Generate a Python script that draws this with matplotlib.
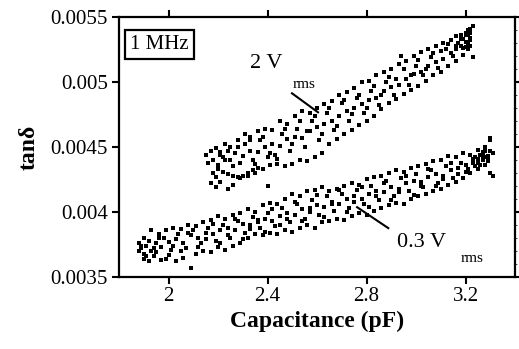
import matplotlib
matplotlib.use("Agg")
import matplotlib.pyplot as plt
import numpy as np
from matplotlib.ticker import FixedLocator, FuncFormatter, MultipleLocator

# ---- data (tan delta in units of 1e-3) ----
cap_2v = [
    # upper strand
    2.15, 2.17, 2.19, 2.21, 2.23, 2.25, 2.28, 2.31, 2.33, 2.36, 2.39, 2.42, 2.45, 2.48, 2.51, 2.54, 2.57, 2.60, 2.63, 2.66,
    2.69, 2.72, 2.75, 2.78, 2.81, 2.84, 2.87, 2.90, 2.93, 2.96, 2.99, 3.02, 3.05, 3.08, 3.11, 3.14, 3.16, 3.18, 3.20, 3.22,
    # middle strand
    2.16, 2.18, 2.20, 2.22, 2.25, 2.27, 2.30, 2.33, 2.36, 2.39, 2.42, 2.45, 2.48, 2.51, 2.54, 2.57, 2.60, 2.63, 2.66, 2.69,
    2.72, 2.75, 2.78, 2.81, 2.84, 2.87, 2.90, 2.93, 2.96, 2.99, 3.02, 3.05, 3.08, 3.11, 3.14, 3.16, 3.18, 3.20, 3.22,
    # lower strand
    2.17, 2.19, 2.21, 2.24, 2.26, 2.29, 2.32, 2.35, 2.38, 2.41, 2.44, 2.47, 2.50, 2.53, 2.56, 2.59, 2.62, 2.65, 2.68, 2.71,
    2.74, 2.77, 2.80, 2.83, 2.86, 2.89, 2.92, 2.95, 2.98, 3.01, 3.04, 3.07, 3.10, 3.13, 3.16, 3.19, 3.21, 3.23,
    # arc
    2.22, 2.24, 2.26, 2.28, 2.30, 2.32, 2.34, 2.36,
    # scattered
    2.20, 2.23, 2.29, 2.34, 2.37, 2.40, 2.43, 2.46, 2.49, 2.52, 2.55, 2.58, 2.61, 2.64, 2.67, 2.70, 2.73, 2.76, 2.79, 2.82,
    2.85, 2.88, 2.91, 2.94, 2.97, 3.00, 3.03, 3.06, 3.09, 3.12, 3.15, 3.17, 3.19, 3.20, 3.21, 3.22, 3.22, 3.23, 3.21, 3.20, 2.40,
    2.18, 2.21, 2.26, 2.31, 2.35, 2.38, 2.44, 2.47, 2.50, 2.53, 2.56, 2.59, 2.62, 2.65, 2.68, 2.71, 2.74, 2.77, 2.80, 2.83,
    2.86, 2.89, 2.92, 2.95, 2.98, 3.01, 3.04, 3.07, 3.10, 3.13, 3.16, 3.18, 3.19, 3.21, 3.22, 2.24, 2.28, 2.19, 2.33, 2.41,
]
tand_2v = [
    4.44, 4.47, 4.49, 4.46, 4.52, 4.50, 4.55, 4.60, 4.58, 4.62, 4.64, 4.63, 4.70, 4.68, 4.74, 4.78, 4.76, 4.80, 4.83, 4.85,
    4.90, 4.92, 4.95, 5.00, 5.01, 5.05, 5.08, 5.10, 5.14, 5.16, 5.20, 5.23, 5.25, 5.28, 5.30, 5.32, 5.35, 5.36, 5.38, 5.41,
    4.38, 4.40, 4.36, 4.42, 4.40, 4.45, 4.43, 4.47, 4.46, 4.50, 4.52, 4.51, 4.56, 4.58, 4.57, 4.62, 4.65, 4.68, 4.70, 4.74,
    4.78, 4.80, 4.83, 4.86, 4.88, 4.93, 4.96, 4.98, 5.02, 5.06, 5.08, 5.12, 5.15, 5.18, 5.22, 5.25, 5.28, 5.31, 5.34,
    4.22, 4.19, 4.23, 4.18, 4.21, 4.26, 4.28, 4.30, 4.33, 4.36, 4.37, 4.35, 4.37, 4.40, 4.39, 4.42, 4.45, 4.52, 4.56, 4.60,
    4.63, 4.67, 4.70, 4.74, 4.79, 4.84, 4.87, 4.91, 4.94, 4.97, 5.01, 5.05, 5.08, 5.12, 5.16, 5.21, 5.25, 5.19,
    4.31, 4.29, 4.28, 4.27, 4.28, 4.30, 4.32, 4.34,
    4.33, 4.40, 4.38, 4.40, 4.55, 4.42, 4.44, 4.60, 4.47, 4.64, 4.50, 4.70, 4.55, 4.76, 4.63, 4.84, 4.70, 4.88, 4.76, 4.93,
    4.82, 5.00, 4.90, 5.20, 4.98, 5.12, 5.05, 5.19, 5.11, 5.25, 5.20, 5.30, 5.33, 5.36, 5.30, 5.38, 5.32, 5.43, 5.40, 5.27, 4.20,
    4.30, 4.44, 4.35, 4.52, 4.37, 4.58, 4.41, 4.64, 4.52, 4.70, 4.62, 4.74, 4.60, 4.80, 4.66, 4.86, 4.75, 4.90, 4.80, 4.97,
    4.90, 5.04, 5.02, 5.10, 5.05, 5.17, 5.10, 5.22, 5.24, 5.29, 5.28, 5.33, 5.26, 5.37, 5.28, 4.47, 4.50, 4.27, 4.55, 4.45,
]

cap_03v = [
    # upper strand
    1.88, 1.90, 1.93, 1.96, 1.99, 2.02, 2.05, 2.08, 2.11, 2.14, 2.17, 2.20, 2.23, 2.26, 2.29, 2.32, 2.35, 2.38, 2.41, 2.44,
    2.47, 2.50, 2.53, 2.56, 2.59, 2.62, 2.65, 2.68, 2.71, 2.74, 2.77, 2.80, 2.83, 2.86, 2.89, 2.92, 2.95, 2.98, 3.01, 3.04,
    3.07, 3.10, 3.13, 3.16, 3.19, 3.22, 3.25, 3.28, 3.30, 3.30,
    # middle strand
    1.89, 1.91, 1.93, 1.95, 1.97, 2.00, 2.03, 2.06, 2.09, 2.12, 2.15, 2.18, 2.21, 2.24, 2.27, 2.30, 2.33, 2.36, 2.39, 2.42,
    2.45, 2.48, 2.51, 2.54, 2.57, 2.60, 2.63, 2.66, 2.69, 2.72, 2.75, 2.78, 2.81, 2.84, 2.87, 2.90, 2.93, 2.96, 2.99, 3.02,
    3.05, 3.08, 3.11, 3.14, 3.17, 3.20, 3.23, 3.25, 3.27, 3.29, 3.31,
    # lower strand
    1.90, 1.92, 1.94, 1.97, 2.00, 2.03, 2.06, 2.09, 2.11, 2.14, 2.17, 2.20, 2.23, 2.26, 2.29, 2.32, 2.35, 2.38, 2.41, 2.44,
    2.47, 2.50, 2.53, 2.56, 2.59, 2.62, 2.65, 2.68, 2.71, 2.74, 2.77, 2.80, 2.83, 2.86, 2.89, 2.92, 2.95, 2.98, 3.01, 3.04,
    3.07, 3.10, 3.13, 3.16, 3.19, 3.22, 3.25, 3.28, 3.30, 3.31,
    # scattered
    1.88, 1.90, 1.92, 1.95, 1.98, 2.01, 2.04, 2.07, 2.10, 2.13, 2.16, 2.19, 2.22, 2.25, 2.28, 2.31, 2.34, 2.37, 2.40, 2.43,
    2.46, 2.49, 2.52, 2.55, 2.58, 2.61, 2.64, 2.67, 2.70, 2.73, 2.76, 2.79, 2.82, 2.85, 2.88, 2.91, 2.94, 2.97, 3.00, 3.03,
    3.06, 3.09, 3.12, 3.15, 3.18, 3.21, 3.24, 3.26, 3.27, 3.28, 3.29, 3.26, 3.24, 3.30,
    1.89, 1.91, 1.94, 1.96, 1.99, 2.02, 2.05, 2.08, 2.12, 2.15, 2.18, 2.21, 2.24, 2.27, 2.30, 2.33, 2.36, 2.39, 2.42, 2.45,
    2.48, 2.51, 2.54, 2.57, 2.60, 2.63, 2.66, 2.69, 2.72, 2.75, 2.78, 2.81, 2.84, 2.87, 2.90, 2.93, 2.96, 2.99, 3.02, 3.05,
    3.08, 3.11, 3.14, 3.17, 3.20, 3.23, 3.25, 3.27, 3.28, 3.29,
]
tand_03v = [
    3.76, 3.80, 3.86, 3.83, 3.86, 3.88, 3.87, 3.90, 3.89, 3.92, 3.94, 3.97, 3.95, 3.98, 3.99, 4.02, 4.00, 4.05, 4.07, 4.06,
    4.10, 4.14, 4.12, 4.16, 4.17, 4.19, 4.16, 4.18, 4.20, 4.22, 4.21, 4.25, 4.27, 4.28, 4.30, 4.32, 4.31, 4.34, 4.35, 4.37,
    4.39, 4.40, 4.43, 4.42, 4.45, 4.44, 4.48, 4.50, 4.55, 4.57,
    3.72, 3.74, 3.70, 3.76, 3.73, 3.77, 3.79, 3.76, 3.82, 3.80, 3.84, 3.83, 3.86, 3.88, 3.86, 3.91, 3.90, 3.94, 3.95, 3.93,
    3.97, 3.99, 3.98, 4.02, 4.03, 4.05, 4.04, 4.08, 4.06, 4.10, 4.12, 4.10, 4.14, 4.16, 4.15, 4.19, 4.18, 4.22, 4.24, 4.23,
    4.27, 4.29, 4.28, 4.32, 4.34, 4.36, 4.38, 4.41, 4.40, 4.43, 4.45,
    3.64, 3.62, 3.66, 3.63, 3.67, 3.62, 3.65, 3.57, 3.68, 3.70, 3.69, 3.73, 3.71, 3.74, 3.76, 3.80, 3.83, 3.82, 3.84, 3.83,
    3.86, 3.85, 3.88, 3.90, 3.88, 3.92, 3.93, 3.95, 3.94, 3.97, 3.99, 3.98, 4.01, 4.03, 4.05, 4.07, 4.06, 4.10, 4.12, 4.14,
    4.16, 4.18, 4.21, 4.23, 4.26, 4.30, 4.33, 4.36, 4.30, 4.28,
    3.70, 3.68, 3.78, 3.69, 3.80, 3.71, 3.83, 3.72, 3.86, 3.76, 3.88, 3.78, 3.90, 3.80, 3.93, 3.84, 3.96, 3.88, 3.99, 3.89,
    4.03, 3.92, 4.06, 3.95, 4.09, 3.98, 4.12, 4.01, 4.14, 4.03, 4.17, 4.06, 4.20, 4.09, 4.24, 4.12, 4.26, 4.16, 4.29, 4.19,
    4.32, 4.22, 4.35, 4.26, 4.38, 4.33, 4.42, 4.36, 4.46, 4.42, 4.39, 4.44, 4.35, 4.47,
    3.74, 3.66, 3.72, 3.80, 3.64, 3.74, 3.70, 3.84, 3.73, 3.79, 3.91, 3.76, 3.82, 3.95, 3.79, 3.87, 3.92, 3.85, 4.02, 3.90,
    3.95, 4.08, 3.93, 4.00, 4.13, 3.96, 4.06, 4.17, 4.00, 4.08, 4.19, 4.04, 4.12, 4.22, 4.09, 4.15, 4.28, 4.13, 4.20, 4.33,
    4.20, 4.25, 4.38, 4.29, 4.31, 4.41, 4.38, 4.43, 4.47, 4.41,
]

x_ticks = [2.0, 2.4, 2.8, 3.2]
y_ticks = [0.0035, 0.004, 0.0045, 0.005, 0.0055]

# ---- plot ----
plt.rcParams['font.family'] = ['Liberation Serif', 'DejaVu Serif']
fig = plt.figure(figsize=(5.19, 3.49), dpi=100)
ax = fig.add_axes([0.2293, 0.2063, 0.7630, 0.7450])

ax.scatter(cap_2v, np.array(tand_2v) * 1e-3, s=5.5, marker='s', c='black', linewidths=0)
ax.scatter(cap_03v, np.array(tand_03v) * 1e-3, s=4.8, marker='s', c='black', linewidths=0)

ax.set_xlim(1.8, 3.4)
ax.set_ylim(0.0035, 0.0055)

ax.xaxis.set_major_locator(FixedLocator(x_ticks))
ax.yaxis.set_major_locator(FixedLocator(y_ticks))
fmt = FuncFormatter(lambda v, p: '%g' % v)
ax.xaxis.set_major_formatter(fmt)
ax.yaxis.set_major_formatter(fmt)

ax.tick_params(axis='both', which='major', direction='out', length=5, width=1.5,
               labelsize=15, top=True, right=True, pad=2)
ax.tick_params(axis='y', which='major', pad=3)
ax.yaxis.set_minor_locator(MultipleLocator(0.0001))
ax.tick_params(axis='y', which='minor', left=False, right=True, direction='out', length=1.5, width=0.5)
for s in ax.spines.values():
    s.set_linewidth(1.6)

ax.set_xlabel('Capacitance (pF)', fontsize=17, fontweight='bold', labelpad=4)
ax.set_ylabel('tanδ', fontsize=17, fontweight='bold', labelpad=8)

# annotations
ax.text(0.028, 0.895, '1 MHz', transform=ax.transAxes, fontsize=15, va='center', ha='left',
        bbox=dict(boxstyle='square,pad=0.25', fc='white', ec='black', lw=1.6))
ax.text(2.328, 0.005105, '2 V', fontsize=16, ha='left', va='baseline')
ax.text(2.503, 0.00495, 'rms', fontsize=11, ha='left', va='baseline')
ax.plot([2.499, 2.604], [0.004913, 0.004767], color='black', lw=1.5)
ax.text(2.924, 0.00373, '0.3 V', fontsize=16, ha='left', va='baseline')
ax.text(3.18, 0.003615, 'rms', fontsize=11, ha='left', va='baseline')
ax.plot([2.762, 2.888], [0.004037, 0.003876], color='black', lw=1.5)

fig.savefig('out.png', dpi=100)
